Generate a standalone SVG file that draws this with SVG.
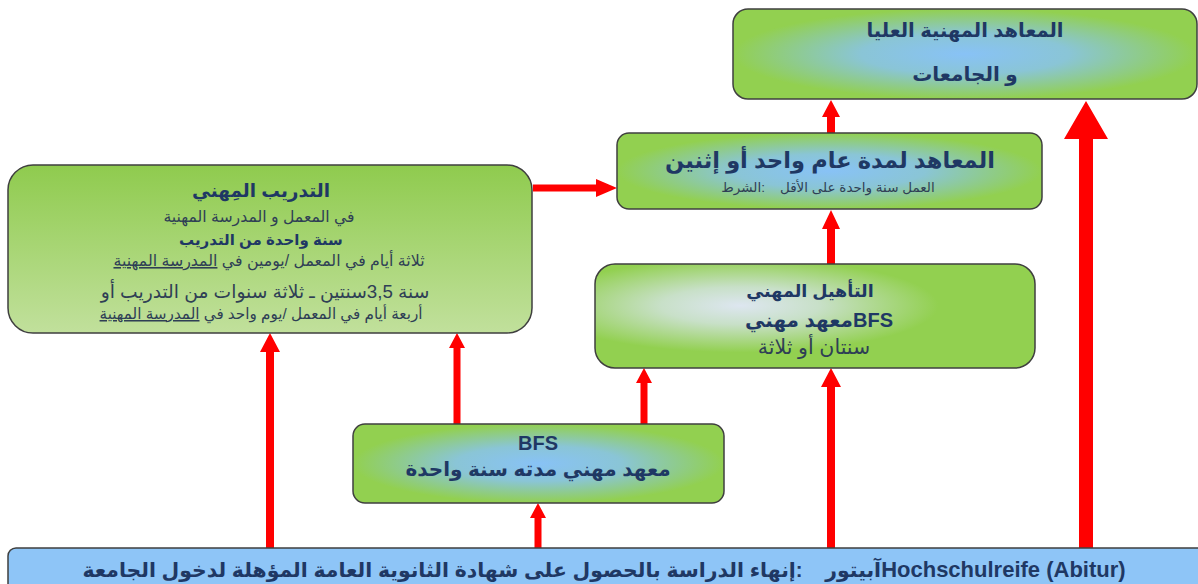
<svg xmlns="http://www.w3.org/2000/svg" width="1198" height="584" viewBox="0 0 1198 584">
<defs>
<radialGradient id="gBlue" cx="0.5" cy="0.5" r="0.5">
<stop offset="0" stop-color="#88C2F6"/>
<stop offset="0.45" stop-color="#8AC5D6"/>
<stop offset="1" stop-color="#92D050"/>
</radialGradient>
<radialGradient id="gWhite" cx="0.33" cy="0.4" r="0.6">
<stop offset="0" stop-color="#DDE6F0"/>
<stop offset="0.3" stop-color="#C8E0C8"/>
<stop offset="0.75" stop-color="#92D050"/>
<stop offset="1" stop-color="#92D050"/>
</radialGradient>
<linearGradient id="gLeft" x1="0" y1="0" x2="0" y2="1">
<stop offset="0" stop-color="#8FCB4E"/>
<stop offset="1" stop-color="#C1E09C"/>
</linearGradient>
</defs>
<style>
.box{stroke:#3F3F3F;stroke-width:1.5}
.ar{font-family:"Liberation Sans","DejaVu Sans",sans-serif;text-anchor:middle;direction:rtl;fill:#1F3864}
.b{font-weight:bold}
.r{fill:#2F3F55}
.arrow{fill:#FF0000}
</style>
<rect width="1198" height="584" fill="#FFFFFF"/>
<g id="connectors">
<polygon class="arrow" points="266,548 274,548 274,352 280,352 270,333 260,352 266,352"/>
<polygon class="arrow" points="453.5,424 460.5,424 460.5,348 465,348 457,333 449,348 453.5,348"/>
<polygon class="arrow" points="640.5,424 647.5,424 647.5,383 652,383 644,368 636,383 640.5,383"/>
<polygon class="arrow" points="534.5,548 541.5,548 541.5,518 546,518 538,503 530,518 534.5,518"/>
<polygon class="arrow" points="827,548 835,548 835,387 841,387 831,368 821,387 827,387"/>
<polygon class="arrow" points="827,264 835,264 835,229 840,229 831,210 822,229 827,229"/>
<polygon class="arrow" points="827,133 835,133 835,117 840,117 831,100 822,117 827,117"/>
<polygon class="arrow" points="1079,548 1093,548 1093,139 1108,139 1086,101 1064,139 1079,139"/>
<polygon class="arrow" points="533,184.5 596,184.5 596,179 617,188 596,197 596,191.5 533,191.5"/>
</g>
<g id="node-top">
<rect class="box" x="733" y="9" width="464" height="90" rx="15" fill="url(#gBlue)"/>
<text class="ar b" x="965" y="37" font-size="19.5">المعاهد المهنية العليا</text>
<text class="ar b" x="965" y="81" font-size="20">و الجامعات</text>
</g>
<g id="node-institutes">
<rect class="box" x="617" y="133" width="425" height="76" rx="12" fill="url(#gBlue)"/>
<text class="ar b" x="830" y="168" font-size="22.5">المعاهد لمدة عام واحد أو إثنين</text>
<text class="ar r" x="828" y="192" font-size="13.5" xml:space="preserve">العمل سنة واحدة على الأقل    :الشرط</text>
</g>
<g id="node-training">
<rect class="box" x="8" y="165" width="524" height="168" rx="25" fill="url(#gLeft)"/>
<text class="ar b" x="261" y="197" font-size="18.5">التدريب المِهني</text>
<text class="ar r" x="259" y="222" font-size="15.7">في المعمل و المدرسة المهنية</text>
<text class="ar b" x="261" y="245" font-size="15">سنة واحدة من التدريب</text>
<text class="ar r" x="269" y="266" font-size="15.8">ثلاثة أيام في المعمل /يومين في <tspan text-decoration="underline">المدرسة المهنية</tspan></text>
<text class="ar r" x="265" y="298" font-size="18.7">سنة 3,5سنتين ـ ثلاثة سنوات من التدريب أو</text>
<text class="ar r" x="261" y="319" font-size="15.2">أربعة أيام في المعمل /يوم واحد في <tspan text-decoration="underline">المدرسة المهنية</tspan></text>
</g>
<g id="node-qualification">
<rect class="box" x="595" y="264" width="440" height="104" rx="20" fill="url(#gWhite)"/>
<text class="ar b" x="810" y="297" font-size="17.6">التأهيل المهني</text>
<text class="ar b" x="819" y="327" font-size="20">BFSمعهد مهني</text>
<text class="ar r" x="814" y="354" font-size="20.5">سنتان أو ثلاثة</text>
</g>
<g id="node-bfs">
<rect class="box" x="353" y="424" width="371" height="79" rx="12" fill="url(#gBlue)"/>
<text class="ar b" x="538" y="450" font-size="20">BFS</text>
<text class="ar b" x="538" y="476" font-size="20">معهد مهني مدته سنة واحدة</text>
</g>
<g id="node-abitur">
<rect class="box" x="8" y="548" width="1200" height="50" rx="8" fill="#8EC5F7"/>
<text class="ar b" x="604" y="577" font-size="20.4" xml:space="preserve"><tspan font-size="22">Hochschulreife (Abitur)</tspan>&#x200E;آبيتور    :إنهاء الدراسة بالحصول على شهادة الثانوية العامة المؤهلة لدخول الجامعة</text>
</g>
</svg>
